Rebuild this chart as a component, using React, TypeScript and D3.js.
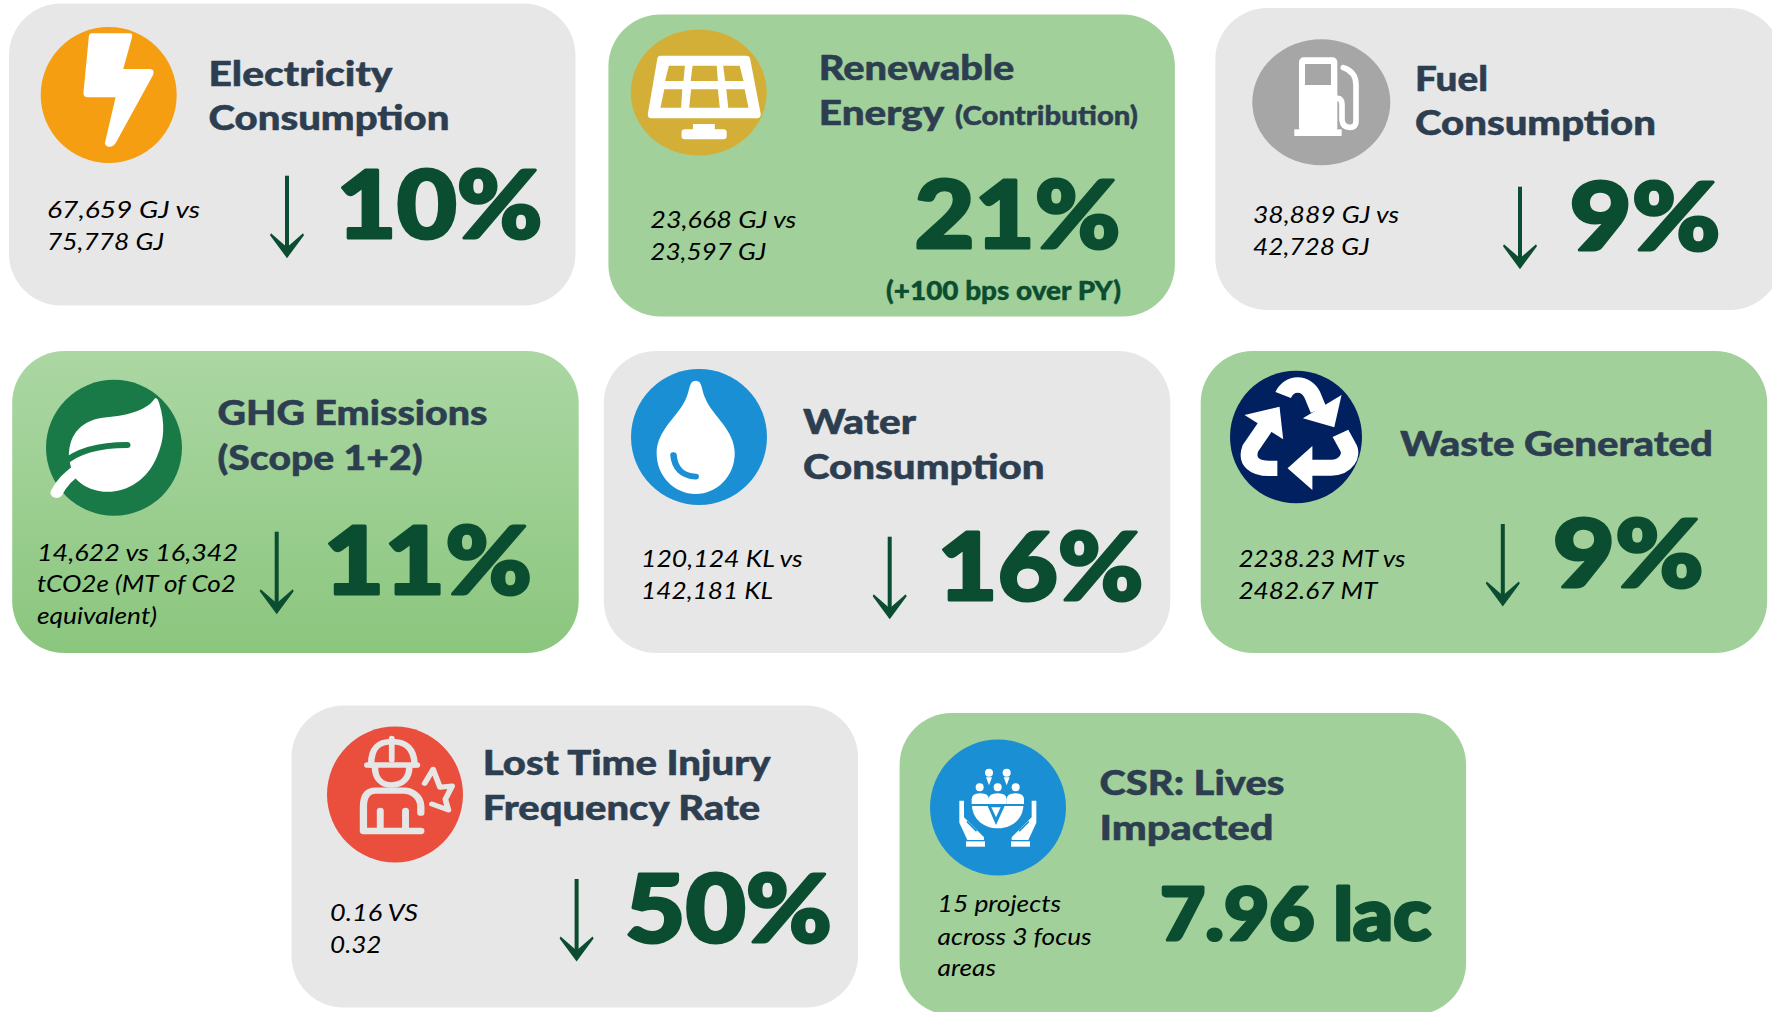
import * as React from "react";
import * as d3 from "d3";

const cardTitles = [
  ["Electricity", "Consumption"],
  ["Renewable", "Energy"],
  ["Fuel", "Consumption"],
  ["GHG Emissions", "(Scope 1+2)"],
  ["Water", "Consumption"],
  ["Waste Generated"],
  ["Lost Time Injury", "Frequency Rate"],
  ["CSR: Lives", "Impacted"],
];
const cardComparisons = [
  ["67,659 GJ  vs", "75,778 GJ"],
  ["23,668 GJ vs", "23,597 GJ"],
  ["38,889 GJ vs", "42,728 GJ"],
  ["14,622 vs 16,342", "tCO2e (MT of Co2", "equivalent)"],
  ["120,124 KL vs", "142,181 KL"],
  ["2238.23 MT vs", "2482.67 MT"],
  ["0.16 VS", "0.32"],
  ["15 projects", "across 3 focus", "areas"],
];
const cardChanges = ["10%", "21%", "9%", "11%", "16%", "9%", "50%", "7.96 lac"];
const cardHasArrow = [true, false, true, true, true, true, true, false];
const renewableTag = "(Contribution)";
const renewableNote = "(+100 bps over PY)";

const layout = [
  { x: 9, y: 3.5, fill: "grey", icon: [108.7, 95, 68, 68, "#f59e12"], tx: 208.5, ty: [86, 130], tw: [184, 241], vx: 47, vy: [218, 250], vw: [153, 117], ax: 287, ay: 175.7, bx: 336.6, by: 238, bw: 206, bs: 94 },
  { x: 608.4, y: 14.5, fill: "green", icon: [698.7, 92.5, 68, 63, "#d4af37"], tx: 818.8, ty: [80, 125], tw: [195.6, 125.6], vx: 650.3, vy: [228, 260], vw: [146, 116], ax: 0, ay: 0, bx: 914.6, by: 248, bw: 206, bs: 94 },
  { x: 1215.3, y: 8, fill: "grey", icon: [1321.3, 102.3, 69, 63, "#a6a6a6"], tx: 1415, ty: [90.7, 135], tw: [73, 241], vx: 1253, vy: [222.7, 254.5], vw: [146, 116.6], ax: 1520, ay: 186.7, bx: 1569.4, by: 250, bw: 151, bs: 94 },
  { x: 12.2, y: 351, fill: "url(#ghgFill)", icon: [114, 447.8, 68, 68, "#1a7a47"], tx: 217.5, ty: [425, 470], tw: [270, 205], vx: 37, vy: [560.5, 592, 624], vw: [201, 199, 120], ax: 276.7, ay: 531.7, bx: 323.5, by: 594.3, bw: 208.5, bs: 94 },
  { x: 603.8, y: 351, fill: "grey", icon: [699, 437, 68, 68, "#1b8fd4"], tx: 803, ty: [434.3, 479], tw: [113, 241.6], vx: 641, vy: [567, 599], vw: [161.7, 132], ax: 889.7, ay: 536.7, bx: 937.5, by: 600, bw: 206, bs: 94 },
  { x: 1200.7, y: 351, fill: "green", icon: [1296, 437, 66, 66.3, "#012060"], tx: 1400, ty: [456], tw: [313], vx: 1238.4, vy: [567, 599], vw: [167, 139], ax: 1502.8, ay: 524, bx: 1552.7, by: 587, bw: 151, bs: 94 },
  { x: 291.5, y: 705.5, fill: "grey", icon: [395, 794.5, 68, 68, "#ea4f3d"], tx: 482.7, ty: [775, 820], tw: [288, 277.5], vx: 330, vy: [921, 953], vw: [88, 51.5], ax: 576.6, ay: 879, bx: 625, by: 941.7, bw: 207, bs: 94 },
  { x: 899.6, y: 713, fill: "green", icon: [998, 807.5, 68, 68, "#1b8fd4"], tx: 1099.5, ty: [795, 840], tw: [185, 174], vx: 937.6, vy: [912, 944.5, 976], vw: [123.5, 154, 58.4], ax: 0, ay: 0, bx: 1160, by: 940, bw: 271, bs: 72 },
];

const GREY = "#e7e7e7";
const GREEN = "#a1d09a";
const TITLE = "#2c3e50";
const DARK = "#0b4d30";

type G = d3.Selection<any, any, any, any>;

function label(g: G, str: string, x: number, y: number, w: number, size: number, color: string, weight: number, italic = false, thick = 0) {
  g.append("text")
    .attr("x", x)
    .attr("y", y)
    .attr("textLength", w)
    .attr("lengthAdjust", "spacingAndGlyphs")
    .attr("font-family", "Lato, 'Noto Sans', sans-serif")
    .attr("font-size", size)
    .attr("font-weight", weight)
    .attr("font-style", italic ? "italic" : "normal")
    .attr("fill", color)
    .attr("stroke", thick ? color : "none")
    .attr("stroke-width", thick)
    .attr("stroke-linejoin", "round")
    .text(str);
}

const arrowHead = d3.line().curve(d3.curveLinearClosed);

function arrow(g: G, x: number, top: number) {
  const bottom = top + 82.5;
  g.append("rect").attr("x", x - 2).attr("y", top).attr("width", 4).attr("height", 76).attr("fill", DARK);
  g.append("path")
    .attr("fill", DARK)
    .attr("d", arrowHead([
      [x, bottom],
      [x - 17, bottom - 23],
      [x - 16, bottom - 25],
      [x, bottom - 11],
      [x + 16, bottom - 25],
      [x + 17, bottom - 23],
    ]));
}

// icon glyphs are traced in the pixel space of a crop, hence the group scale
function crop(g: G, ox: number, oy: number, sx: number, sy: number) {
  return g.append("g").attr("transform", `translate(${ox},${oy}) scale(${1 / sx},${1 / sy})`);
}

function poly(g: G, d: string, fill: string) {
  return g.append("path").attr("d", d).attr("fill", fill);
}

function line(g: G, d: string, color: string, width: number) {
  return g.append("path").attr("d", d).attr("fill", "none").attr("stroke", color).attr("stroke-width", width)
    .attr("stroke-linecap", "round").attr("stroke-linejoin", "round");
}

const iconDrawers: ((g: G, c: string) => void)[] = [
  (g) => {
    const i = crop(g, 0, 0, 2.613, 3);
    poly(i, "M240,100 H338 Q348,100 345,112 L322,207 H392 Q405,207 400,225 L302,430 Q295,442 283,440 Q272,436 275,425 L302,292 H230 Q218,292 218,280 L232,110 Q233,100 240,100 Z", "#fff");
  },
  (g, c) => {
    const i = crop(g, 600, 0, 2.613, 3);
    poly(i, "M158,167 H382 Q390,167 392,175 L420,342 Q420,355 410,355 H135 Q124,355 125,342 L150,175 Q151,167 158,167 Z", "#fff");
    ["M180,197 H222 L218,243 H170 Z", "M242,197 H305 L308,243 H237 Z", "M322,197 H365 L375,243 H327 Z",
      "M168,268 H215 L212,323 H158 Z", "M238,268 H308 L313,323 H233 Z", "M330,268 H378 L388,323 H335 Z"].forEach((d) => poly(i, d, c));
    poly(i, "M243,372 H300 V388 H322 Q331,388 331,397 V409 Q331,418 322,418 H222 Q213,418 213,409 V397 Q213,388 222,388 H243 Z", "#fff");
  },
  (g, c) => {
    const i = crop(g, 1220, 30, 3, 3);
    i.append("rect").attr("x", 237).attr("y", 82).attr("width", 115).attr("height", 225).attr("rx", 14).attr("fill", "#fff");
    i.append("rect").attr("x", 255).attr("y", 102).attr("width", 78).attr("height", 63).attr("fill", c);
    i.append("rect").attr("x", 223).attr("y", 298).attr("width", 142).attr("height", 20).attr("fill", "#fff");
    line(i, "M352,205 Q366,205 366,225 V270 Q368,292 390,292 Q410,292 408,270 V165 Q408,125 370,113", "#fff", 17);
  },
  (g, c) => {
    const i = crop(g, 0, 340, 2.613, 3);
    poly(i, "M405,175 Q412,172 416,190 C432,250 430,300 410,350 C385,420 330,460 270,455 C240,452 210,435 195,412 C188,395 182,370 180,350 C180,280 215,238 280,232 C340,225 385,210 405,175 Z", "#fff");
    line(i, "M332,315 C280,315 210,325 165,370", c, 18);
    line(i, "M148,458 C160,430 180,405 212,382", "#fff", 32);
  },
  (g, c) => {
    const i = crop(g, 600, 340, 2.613, 3);
    poly(i, "M250,122 C232,122 235,150 225,175 C205,230 148,270 148,340 C148,410 195,462 250,462 C305,462 352,410 352,340 C352,270 295,230 275,175 C265,150 268,122 250,122 Z", "#fff");
    line(i, "M192,345 C195,385 215,408 250,410", c, 17);
  },
  (g) => {
    const i = crop(g, 1200, 340, 2.741, 3);
    poly(i, "M388,165 L368,262 L282,235 Z", "#fff");
    line(i, "M228,165 C245,125 290,125 308,165 L325,210", "#fff", 46).attr("stroke-linecap", "butt");
    poly(i, "M122,225 L218,200 L228,298 Z", "#fff");
    line(i, "M180,258 L138,325 C125,365 150,385 190,385 L212,385", "#fff", 46).attr("stroke-linecap", "butt");
    poly(i, "M240,385 L308,318 L308,450 Z", "#fff");
    line(i, "M300,383 L360,383 C400,383 420,345 405,320 L385,280", "#fff", 48).attr("stroke-linecap", "butt");
  },
  (g) => {
    const i = crop(g, 280, 700, 2.613, 3);
    const w = "#e6e6e6";
    line(i, "M238,195 C238,140 260,125 292,125 C325,125 350,140 352,195", w, 17);
    line(i, "M228,195 H358", w, 17);
    line(i, "M292,115 V180", w, 15);
    line(i, "M248,200 C248,235 265,255 292,255 C320,255 338,235 338,200", w, 17);
    line(i, "M368,338 V320 C368,285 340,272 325,272 H250 C225,272 218,295 218,320 V393 H368", w, 19);
    line(i, "M262,393 V332", w, 18);
    line(i, "M328,393 V332", w, 18);
    line(i, "M378,250 L400,208 L418,262 L450,258 L432,298 L440,330 L397,312", w, 15);
  },
  (g, c) => {
    const i = crop(g, 910, 730, 3, 3).attr("filter", "url(#soft)");
    [[237, 128], [290, 128], [209, 172], [263, 172], [317, 172]].forEach(([x, y]) =>
      i.append("circle").attr("cx", x).attr("cy", y).attr("r", 12).attr("fill", "#fff"));
    poly(i, "M228,142 H246 L237,166 Z", "#fff");
    poly(i, "M281,142 H299 L290,166 Z", "#fff");
    // three shoulders over the globe
    [[211, 26], [263, 27], [316, 26]].forEach(([x, r]) =>
      poly(i, `M${x - r},222 V208 Q${x - r},190 ${x},190 Q${x + r},190 ${x + r},208 V222 Z`, "#fff"));
    poly(i, "M186,228 H340 C338,268 305,295 263,295 C222,295 188,268 186,228 Z", "#fff");
    poly(i, "M232,226 H285 L258,285 Z", c);
    poly(i, "M244,232 H272 L258,262 Z", "#fff");
    poly(i, "M148,212 H162 V262 L222,322 V330 H172 L148,278 Z", "#fff");
    poly(i, "M379,212 H365 V262 L305,322 V330 H355 L379,278 Z", "#fff");
    line(i, "M172,276 L198,302", c, 5);
    line(i, "M355,276 L329,302", c, 5);
    i.append("rect").attr("x", 168).attr("y", 334).attr("width", 57).attr("height", 16).attr("fill", "#fff");
    i.append("rect").attr("x", 303).attr("y", 334).attr("width", 57).attr("height", 16).attr("fill", "#fff");
  },
];

export default function App() {
  const ref = React.useRef<SVGSVGElement>(null);

  React.useEffect(() => {
    const svg = d3.select(ref.current);
    svg.selectAll("*").remove();

    const defs = svg.append("defs");
    const grad = defs.append("linearGradient")
      .attr("id", "ghgFill").attr("x1", 0).attr("y1", 0).attr("x2", 0).attr("y2", 1);
    grad.append("stop").attr("offset", "0%").attr("stop-color", "#abd7a3");
    grad.append("stop").attr("offset", "100%").attr("stop-color", "#8bc67e");
    defs.append("filter").attr("id", "soft").append("feGaussianBlur").attr("stdDeviation", 1.5);

    const cards = svg.selectAll("g.card").data(layout).join("g").attr("class", "card");

    cards.each(function (d, i) {
      const g = d3.select(this) as G;
      const fill = d.fill === "grey" ? GREY : d.fill === "green" ? GREEN : d.fill;
      g.append("rect").attr("x", d.x).attr("y", d.y).attr("width", 566.5).attr("height", 302).attr("rx", 52).attr("fill", fill);

      const [cx, cy, rx, ry, color] = d.icon as [number, number, number, number, string];
      g.append("ellipse").attr("cx", cx).attr("cy", cy).attr("rx", rx).attr("ry", ry).attr("fill", color);
      iconDrawers[i](g, color);

      cardTitles[i].forEach((t, k) => label(g, t, d.tx, d.ty[k], d.tw[k], 34, TITLE, 900, false, 0.5));
      cardComparisons[i].forEach((t, k) => label(g, t, d.vx, d.vy[k], d.vw[k], 24, "#000", 400, true));
      label(g, cardChanges[i], d.bx, d.by, d.bw, d.bs, DARK, 900, false, 3);
      if (cardHasArrow[i]) arrow(g, d.ax, d.ay);
      if (i === 1) {
        label(g, renewableTag, 955, 125, 183, 26, TITLE, 900, false, 0.4);
        label(g, renewableNote, 886, 300, 235, 26, DARK, 900, false, 0.4);
      }
    });
  }, []);

  return (
    <svg
      ref={ref}
      width={1772}
      height={1012}
      style={{ position: "absolute", left: 0, top: 0, display: "block", background: "#fff" }}
    />
  );
}
